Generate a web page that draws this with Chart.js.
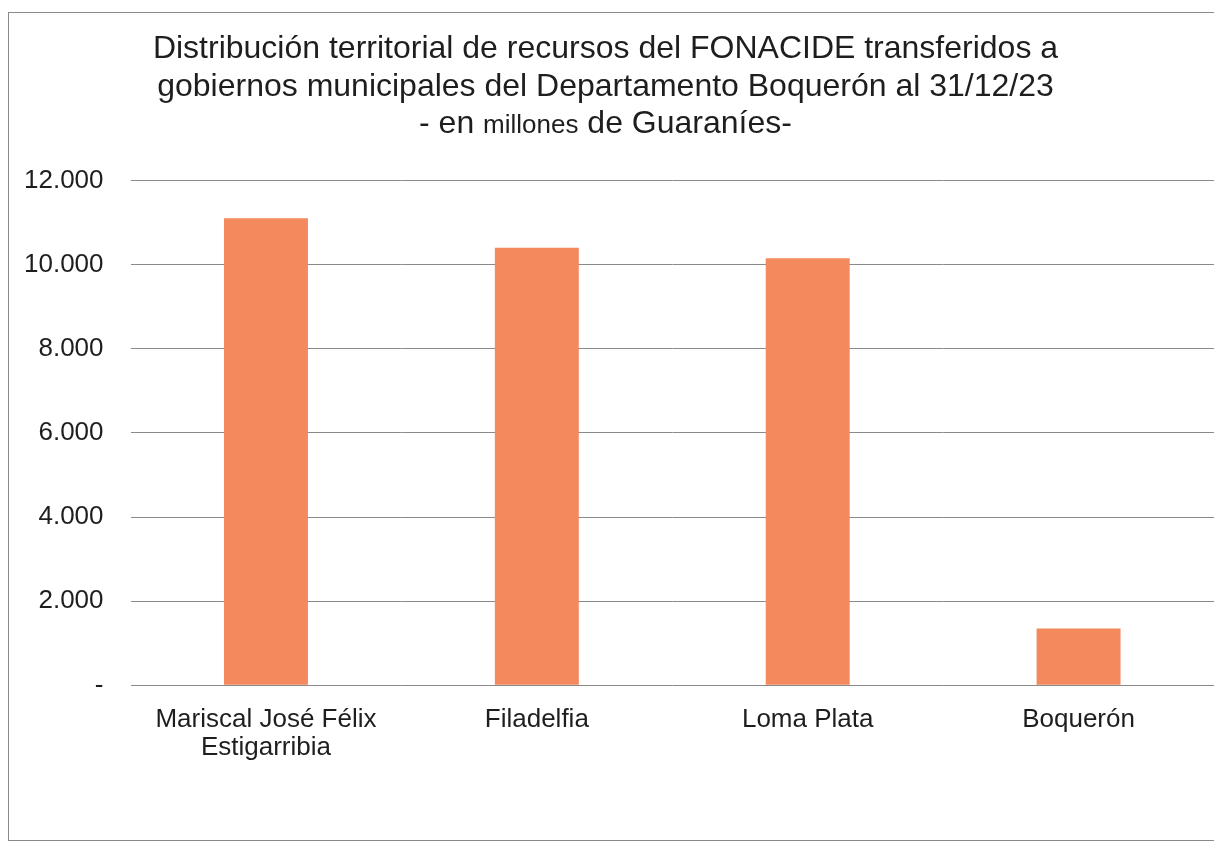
<!DOCTYPE html>
<html>
<head>
<meta charset="utf-8">
<script src="https://cdn.jsdelivr.net/npm/chart.js@4"></script>
<style>
  html, body { margin: 0; padding: 0; background: #fff; overflow: hidden; }
  #wrap { position: relative; width: 1214px; height: 842px; }
  #frame { position: absolute; left: 8px; top: 12px; width: 1300px; height: 827px; border: 1.5px solid #8a8a8a; }
  canvas { position: absolute; left: 0; top: 0; }
</style>
</head>
<body>
<div id="wrap">
  <div id="frame"></div>
  <canvas id="fonacideChart" width="1214" height="842"></canvas>
</div>
<script>
// Municipios del Departamento Boquerón
const municipios = [['Mariscal José Félix', 'Estigarribia'], 'Filadelfia', 'Loma Plata', 'Boquerón'];
// Transferencias FONACIDE, millones de Guaraníes
const montos = [11100, 10400, 10150, 1350];
const tituloLineas = [
    'Distribución territorial de recursos del FONACIDE transferidos a',
    'gobiernos municipales del Departamento Boquerón al 31/12/23'
];
// third title line has a smaller word in the middle
const subtituloPartes = ['- en ', 'millones', ' de Guaraníes-'];

const FONT = 'Liberation Sans, Arial, sans-serif';
const TITLE_SIZE = 32;
const TITLE_LH = 1.16;

// Format with dot as thousands separator, zero shown as "-"
function formatMiles(v) {
    if (v === 0) return '-';
    return String(Math.round(v)).replace(/\B(?=(\d{3})+(?!\d))/g, '.');
}

// Draws the third title line with mixed font sizes
const subtituloPlugin = {
    id: 'subtitulo',
    afterDraw(chart) {
        const c = chart.ctx;
        const tb = chart.titleBlock;
        const lh = TITLE_SIZE * TITLE_LH;
        const y = tb.top + tb.options.padding.top + lh * 2.5 - 2;
        const sizes = [TITLE_SIZE, 26, TITLE_SIZE];
        let total = 0;
        const widths = subtituloPartes.map((t, i) => {
            c.font = sizes[i] + 'px ' + FONT;
            const w = c.measureText(t).width;
            total += w;
            return w;
        });
        let x = (tb.left + tb.right) / 2 - total / 2;
        c.save();
        c.fillStyle = '#1e1e1e';
        c.textBaseline = 'alphabetic';
        subtituloPartes.forEach((t, i) => {
            c.font = sizes[i] + 'px ' + FONT;
            c.fillText(t, x, y + TITLE_SIZE * 0.36);
            x += widths[i];
        });
        c.restore();
    }
};

const ctx = document.getElementById('fonacideChart').getContext('2d');
new Chart(ctx, {
    type: 'bar',
    data: {
        labels: municipios,
        datasets: [{
            data: montos,
            backgroundColor: '#F4895D',
            categoryPercentage: 1,
            barPercentage: 0.31
        }]
    },
    plugins: [subtituloPlugin],
    options: {
        responsive: false,
        animation: false,
        layout: { padding: { left: -3, right: 0, top: 0, bottom: 67 } },
        plugins: {
            legend: { display: false },
            tooltip: { enabled: false },
            title: {
                display: true,
                text: tituloLineas.concat([' ']),
                color: '#1e1e1e',
                font: { family: FONT, size: TITLE_SIZE, weight: 'normal', lineHeight: TITLE_LH },
                padding: { top: 31, bottom: 38 }
            }
        },
        scales: {
            x: {
                grid: { display: false },
                border: { display: false },
                ticks: {
                    color: '#1e1e1e',
                    padding: 13,
                    maxRotation: 0,
                    font: { family: FONT, size: 26, lineHeight: 1.07 }
                }
            },
            y: {
                min: 0,
                max: 12000,
                grid: { color: '#8a8a8a', lineWidth: 1, drawTicks: false },
                border: { display: false },
                ticks: {
                    stepSize: 2000,
                    padding: 27,
                    color: '#1e1e1e',
                    font: { family: FONT, size: 26 },
                    callback: function (value) { return formatMiles(value); }
                }
            }
        }
    }
});
</script>
</body>
</html>
